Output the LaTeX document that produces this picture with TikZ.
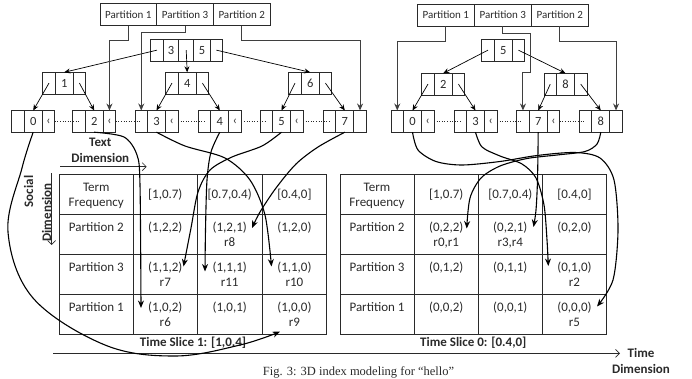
\documentclass[tikz,border=0pt]{standalone}
\usepackage{fontspec}
\setmainfont{Carlito}
\newfontfamily\capfont{Liberation Serif}
\usetikzlibrary{arrows.meta,calc}
\definecolor{ink}{HTML}{2A2A2A}
\tikzset{
 cell/.style={draw=ink, fill=white, line width=0.8pt, inner sep=0pt, outer sep=0pt, minimum height=21.7pt, text=ink, font=\fontsize{12.5}{14}\selectfont},
 pcell/.style={cell, minimum width=12.5pt},
 kcell/.style={cell, minimum width=18pt},
 partcell/.style={draw=ink, line width=0.8pt, inner sep=0pt, outer sep=0pt, minimum height=22.3pt, text=ink, font=\fontsize{11}{13}\selectfont},
 treearrow/.style={draw=black, line width=0.7pt, -{Stealth[length=6pt,width=5pt]}},
 partarrow/.style={draw=ink!90, line width=1pt, -{Stealth[length=7pt,width=6pt]}},
 dotlink/.style={draw=ink, line width=0.6pt, dotted},
 curvearrow/.style={draw=black, line width=1.1pt, -{Stealth[length=7.5pt,width=6pt]}},
 tabtext/.style={text=ink, font=\fontsize{13}{15.5}\selectfont, align=center, inner sep=0pt},
 dimlabel/.style={text=ink, font=\bfseries\fontsize{13}{15.5}\selectfont, align=center, inner sep=0pt},
 axisarrow/.style={draw=ink, line width=0.7pt, -{Straight Barb[length=4pt,width=8pt]}},
 gridline/.style={draw=ink, line width=0.9pt},
}
\newcommand\leafnode[5]{%
 \node[pcell, anchor=north west] (#1a) at (#2,#3) {};
 \node[kcell, anchor=west] (#1k) at (#1a.east) {#4};
 \node[pcell, anchor=west] (#1b) at (#1k.east) {#5};
}
\newcommand\tcell[4]{% name, x, rowtop, text
 \node[tabtext, anchor=base] (#1) at (#2,#3+17) {#4};
}
\newcommand\tcellr[5]{% name, x, rowtop, text, second line
 \node[tabtext, anchor=base] (#1) at (#2,#3+17) {#4};
 \node[tabtext, anchor=base] (#1r) at (#2,#3+32.5) {#5};
}
\begin{document}
\begin{tikzpicture}[x=1pt,y=-1pt]
\useasboundingbox (0,0) rectangle (692,378);

% ---------------- left tree ----------------
\node[partcell, minimum width=56.7pt, anchor=north west] (P1) at (100,3.3) {Partition 1};
\node[partcell, minimum width=56.7pt, anchor=west] (P3) at (P1.east) {Partition 3};
\node[partcell, minimum width=56.7pt, anchor=west] (P2) at (P3.east) {Partition 2};

\node[pcell, anchor=north west] (Ra) at (150.7,39.3) {};
\node[kcell, minimum width=15.5pt, anchor=west] (Rk1) at (Ra.east) {3};
\node[pcell, minimum width=15pt, anchor=west] (Rm) at (Rk1.east) {};
\node[kcell, minimum width=16.5pt, anchor=west] (Rk2) at (Rm.east) {5};
\node[pcell, anchor=west] (Rb) at (Rk2.east) {};

\leafnode{A1}{42.7}{72.3}{1}{}
\leafnode{A4}{165.7}{72.3}{4}{}
\leafnode{A6}{288.7}{72.3}{6}{}

\leafnode{L0}{11.7}{110.5}{0}{‹}
\leafnode{L2}{72.7}{110.5}{2}{‹}
\leafnode{L3}{135}{110.5}{3}{‹}
\leafnode{L4}{198.3}{110.5}{4}{‹}
\leafnode{L5}{260}{110.5}{5}{‹}
\leafnode{L7}{323.3}{110.5}{7}{}

\draw[treearrow] (Ra.center) -- (A1k.north);
\draw[treearrow] (Rm.center) -- (A4k.north);
\draw[treearrow] (Rb.center) -- (A6k.north);
\draw[treearrow] (A1a.center) -- (L0k.north);
\draw[treearrow] (A1b.center) -- (L2k.north);
\draw[treearrow] (A4a.center) -- (L3k.north);
\draw[treearrow] (A4b.center) -- (L4k.north);
\draw[treearrow] (A6a.center) -- (L5k.north);
\draw[treearrow] (A6b.center) -- (L7k.north);

\draw[partarrow] (P1.south) -- ++(0,15) -| (L2b.north);
\draw[partarrow] (P3.south) -- ++(0,6.7) -| (L3a.north);
\draw[partarrow] (P2.south) -- ++(0,15) -| (L7b.north);

\draw[dotlink] (L0b.east) -- (L2a.center);
\draw[dotlink] (L2b.east) -- (L3a.center);
\draw[dotlink] (L3b.east) -- (L4a.center);
\draw[dotlink] (L4b.east) -- (L5a.center);
\draw[dotlink] (L5b.east) -- (L7a.center);

% ---------------- right tree ----------------
\node[partcell, minimum width=57pt, anchor=north west] (Q1) at (417.3,4) {Partition 1};
\node[partcell, minimum width=57pt, anchor=west] (Q3) at (Q1.east) {Partition 3};
\node[partcell, minimum width=57pt, anchor=west] (Q2) at (Q3.east) {Partition 2};

\leafnode{S}{481.7}{39.3}{5}{}
\leafnode{B2}{421.7}{73.3}{2}{}
\leafnode{B8}{544}{73.3}{8}{}

\leafnode{M0}{391}{110.5}{0}{‹}
\leafnode{M3}{454}{110.5}{3}{‹}
\leafnode{M7}{516.7}{110.5}{7}{‹}
\leafnode{M8}{579.3}{110.5}{8}{}

\draw[treearrow] (Sa.center) -- (B2k.north);
\draw[treearrow] (Sb.center) -- (B8k.north);
\draw[treearrow] (B2a.center) -- (M0k.north);
\draw[treearrow] (B2b.center) -- (M3k.north);
\draw[treearrow] (B8a.center) -- (M7k.north);
\draw[treearrow] (B8b.center) -- (M8k.north);

\draw[partarrow] (Q1.south) -- ++(0,15) -| (M0a.north);
\draw[partarrow] (Q3.south) -- ++(0,7.6) -- ++(28,0) -- ++(0,39) -| (M7a.north);
\draw[partarrow] (Q2.south) -- ++(0,15) -| (M8b.north);

\draw[dotlink] (M0b.east) -- (M3a.center);
\draw[dotlink] (M3b.east) -- (M7a.center);
\draw[dotlink] (M7b.east) -- (M8a.center);

% ---------------- tables ----------------
\draw[gridline] (59.3,174) rectangle (326.7,334.3);
\foreach \xx in {133.3,197.3,262} \draw[gridline] (\xx,174) -- (\xx,334.3);
\foreach \yy in {214,254.3,294.3} \draw[gridline] (59.3,\yy) -- (326.7,\yy);

\draw[gridline] (340,174) rectangle (606.7,334.3);
\foreach \xx in {414,478.3,542.3} \draw[gridline] (\xx,174) -- (\xx,334.3);
\foreach \yy in {214,254.3,294.3} \draw[gridline] (340,\yy) -- (606.7,\yy);

% left table text
\node[tabtext] (lh0) at (96.3,196) {Term\\Frequency};
\node[tabtext] (lh1) at (165.3,195) {[1,0.7)};
\node[tabtext] (lh2) at (229.7,195) {[0.7,0.4)};
\node[tabtext] (lh3) at (294.4,195) {[0.4,0]};
\tcell{l10}{96.3}{214}{Partition 2}
\tcell{l11}{165.3}{214}{(1,2,2)}
\tcellr{l12}{229.7}{214}{(1,2,1)}{r8}
\tcell{l13}{294.4}{214}{(1,2,0)}
\tcell{l20}{96.3}{254.3}{Partition 3}
\tcellr{l21}{165.3}{254.3}{(1,1,2)}{r7}
\tcellr{l22}{229.7}{254.3}{(1,1,1)}{r11}
\tcellr{l23}{294.4}{254.3}{(1,1,0)}{r10}
\tcell{l30}{96.3}{294.3}{Partition 1}
\tcellr{l31}{165.3}{294.3}{(1,0,2)}{r6}
\tcell{l32}{229.7}{294.3}{(1,0,1)}
\tcellr{l33}{294.4}{294.3}{(1,0,0)}{r9}

% right table text
\node[tabtext] (rh0) at (377,196) {Term\\Frequency};
\node[tabtext] (rh1) at (446.2,195) {[1,0.7)};
\node[tabtext] (rh2) at (510.3,195) {[0.7,0.4)};
\node[tabtext] (rh3) at (574.5,195) {[0.4,0]};
\tcell{r10}{377}{214}{Partition 2}
\tcellr{r11}{446.2}{214}{(0,2,2)}{r0,r1}
\tcellr{r12}{510.3}{214}{(0,2,1)}{r3,r4}
\tcell{r13}{574.5}{214}{(0,2,0)}
\tcell{r20}{377}{254.3}{Partition 3}
\tcell{r21}{446.2}{254.3}{(0,1,2)}
\tcell{r22}{510.3}{254.3}{(0,1,1)}
\tcellr{r23}{574.5}{254.3}{(0,1,0)}{r2}
\tcell{r30}{377}{294.3}{Partition 1}
\tcell{r31}{446.2}{294.3}{(0,0,2)}
\tcell{r32}{510.3}{294.3}{(0,0,1)}
\tcellr{r33}{574.5}{294.3}{(0,0,0)}{r5}

\node[dimlabel] (ts1) at (193,342.7) {Time Slice 1: [1,0.4]};
\node[dimlabel] (ts0) at (473.3,342.7) {Time Slice 0: [0.4,0]};

% ---------------- dimension axes ----------------
\node[dimlabel] (txtdim) at (100.3,150.5) {Text\\Dimension};
\coordinate (tx0) at (60,166.7); \coordinate (tx1) at (146.7,166.7);
\draw[axisarrow] (tx0) -- (tx1);
\node[dimlabel, rotate=90] (soc) at (28.5,191.5) {Social};
\node[dimlabel, rotate=90] (socdim) at (46.5,212.5) {Dimension};
\coordinate (sx0) at (51.7,173.3); \coordinate (sx1) at (51.7,245);
\draw[axisarrow] (sx0) -- (sx1);
\coordinate (ta0) at (53.3,353.3); \coordinate (ta1) at (620,353.3);
\draw[axisarrow] (ta0) -- (ta1);
\node[dimlabel] (timedim) at (641,361) {Time\\Dimension};

% ---------------- curve targets ----------------
\coordinate (t9) at (280,331.7);
\coordinate (t6) at (141,308);
\coordinate (t10) at (271.5,266.5);
\coordinate (t11) at (205,271.5);
\coordinate (t7) at (183.5,266.5);
\coordinate (t8) at (252,228);
\coordinate (t5) at (597,306.5);
\coordinate (t2) at (548.3,266);
\coordinate (t34) at (533.5,227);
\coordinate (t01) at (466.7,228.5);

\draw[curvearrow] plot[smooth, tension=0.6] coordinates {(L0k.south) (22,168) (8,232) (33,298) (105,345) (175,356) (240,345) (t9)};
\draw[curvearrow] plot[smooth] coordinates {(L2k.south) (124,137) (137,155) (140,185) (t6)};
\draw[curvearrow] plot[smooth] coordinates {(L3k.south) (185,146) (225,158) (250,180) (265,215) (t10)};
\draw[curvearrow] plot[smooth] coordinates {(L4k.south) (211,152) (207,180) (205.5,230) (t11)};
\draw[curvearrow] plot[smooth] coordinates {(L5k.south) (262,146) (232,157) (210,170) (198,192) (191,228) (t7)};
\draw[curvearrow] plot[smooth] coordinates {(L7k.south) (318,147) (296,164) (276,188) (260,212) (t8)};

\draw[curvearrow] plot[smooth] coordinates {(M0k.south) (418,150) (436,161.5) (462,165) (500,161.5) (537,155.5) (575,152.5) (600,158) (614,180) (618,230) (613,280) (t5)};
\draw[curvearrow] plot[smooth] coordinates {(M3k.south) (482,147) (500,156) (522,164) (536,178) (544,205) (547,240) (t2)};
\draw[curvearrow] plot[smooth] coordinates {(M7k.south) (537.5,180) (536,210) (t34)};
\draw[curvearrow] plot[smooth] coordinates {(M8k.south) (597,144) (585,151.5) (557,155) (527,158.5) (500,166) (481,178) (470,198) (t01)};

% ---------------- caption ----------------
\node[font=\capfont\fontsize{12.5}{14}\selectfont, text=ink, anchor=base, inner sep=0pt] (cap) at (358.5,375) {Fig. 3: 3D index modeling for “hello”};
\end{tikzpicture}
\end{document}
